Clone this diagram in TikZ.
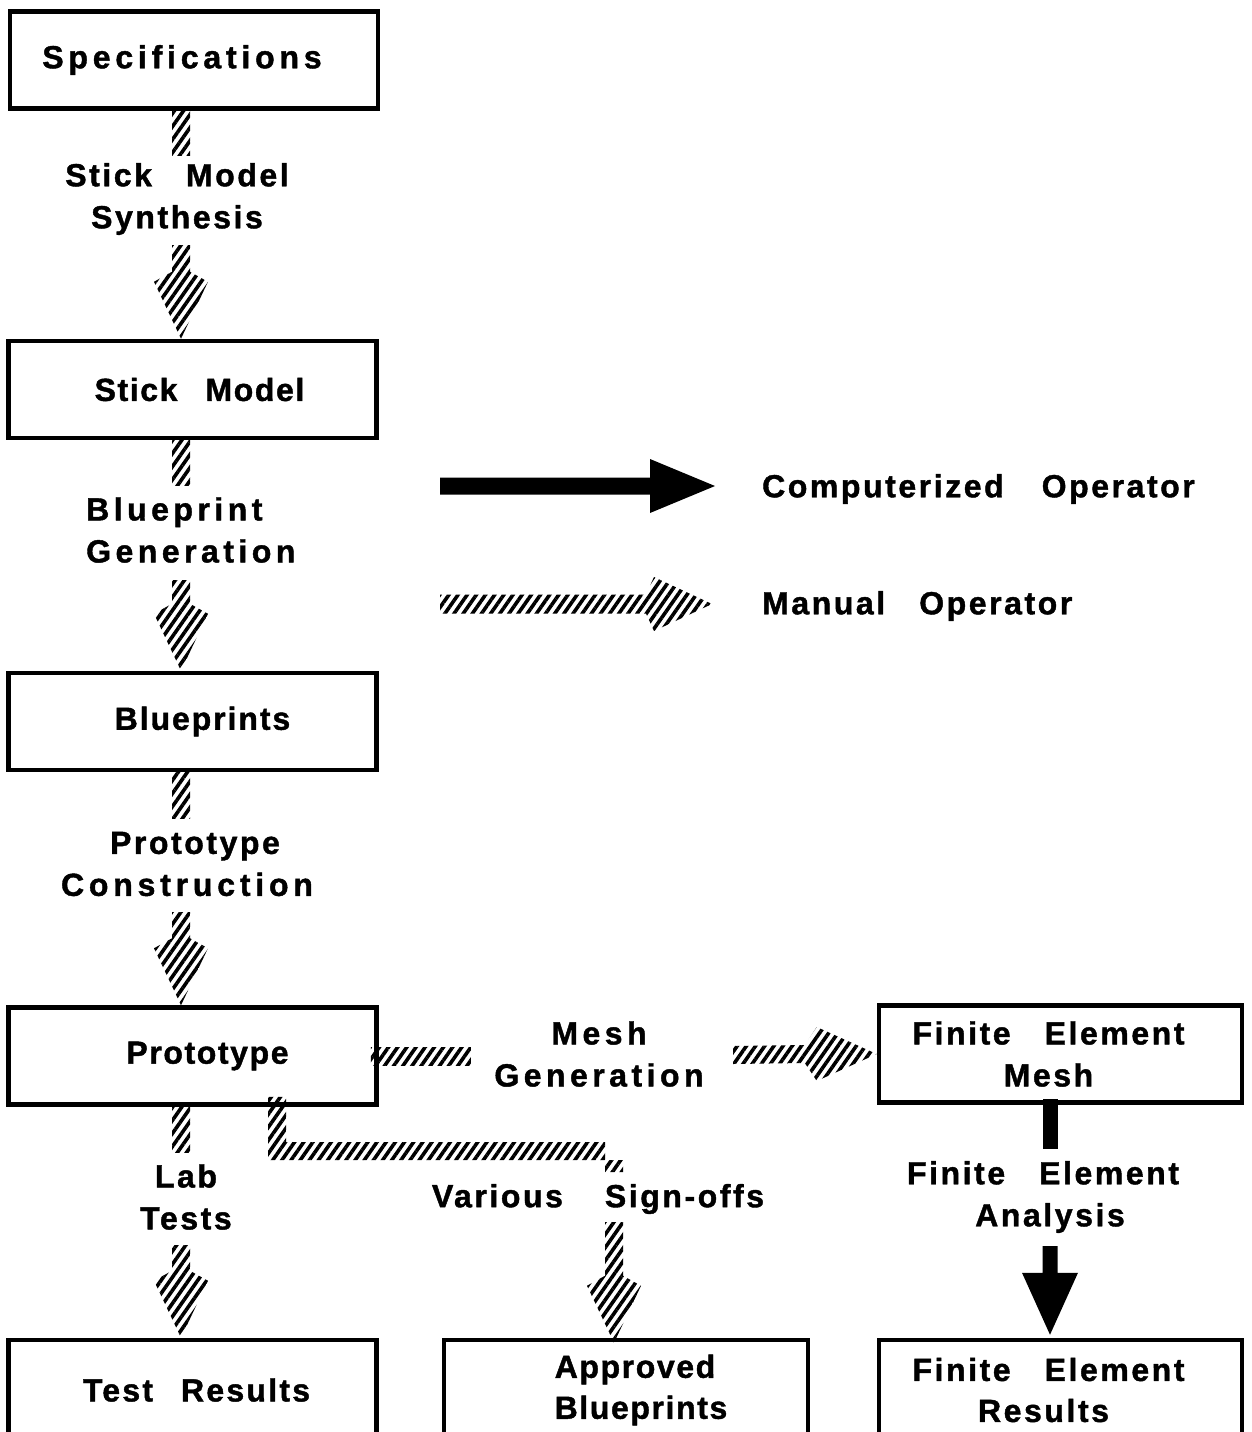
\documentclass[tikz,border=0pt]{standalone}
\usepackage{fontspec}
\setmainfont{Liberation Sans}[LetterSpace=8,BoldFeatures={FakeBold=1.3}]
\usetikzlibrary{calc,patterns.meta}
\newcommand\lbfont{\bfseries\fontsize{32}{42}\selectfont}
\newcommand\ls[1]{\addfontfeature{LetterSpace=#1}}
\newcommand\gap{\hspace{34pt}}
% text set off-centre in its box by #1
\newcommand\sh[2]{\hspace*{#1}#2\hspace*{-#1}}
% down arrow: style, start, tip, half shaft, shaft/head join, widest point, half head
\newcommand\darr[7]{\fill[#1] ($(#2)+(-#4,0)$) -- ($(#3)+(-#4,-#5)$) -- ($(#3)+(-#7,-#6)$) -- (#3) -- ($(#3)+(#7,-#6)$) -- ($(#3)+(#4,-#5)$) -- ($(#2)+(#4,0)$) -- cycle;}
% right arrow: same parameters
\newcommand\rarr[7]{\fill[#1] ($(#2)+(0,-#4)$) -- ($(#3)+(-#5,-#4)$) -- ($(#3)+(-#6,-#7)$) -- (#3) -- ($(#3)+(-#6,#7)$) -- ($(#3)+(-#5,#4)$) -- ($(#2)+(0,#4)$) -- cycle;}
\begin{document}
\begin{tikzpicture}[x=1pt,y=-1pt,
  box/.style={draw,line width=4.5pt,minimum width=368pt,minimum height=97pt,inner sep=0pt,align=center,font=\lbfont},
  lbl/.style={inner sep=0pt,align=center,font=\lbfont},
  hatch/.style={pattern={Lines[angle=55,distance=7.5pt,line width=3.6pt]}},
  ink/.style={fill=black}]
\useasboundingbox (0,0) rectangle (1252,1432);

% boxes
\node[box,font=\lbfont\ls{15}] (spec) at (194,60) {\sh{-12pt}{Specifications}};
\node[box,font=\lbfont\ls{5}] (stick) at (192.5,389.5) {\sh{7pt}{Stick\hspace{28pt}Model}};
\node[box,font=\lbfont\ls{6}] (bp) at (192.5,721.5) {\sh{10pt}{Blueprints}};
\node[box,font=\lbfont\ls{5}] (proto) at (192.5,1056) {\sh{15pt}{Prototype}};
\node[box,font=\lbfont\ls{7},minimum height=100pt] (test) at (192.5,1390) {\sh{4pt}{Test\hspace{28pt}Results}};
\node[box,font=\lbfont\ls{5},minimum width=364pt,minimum height=100pt] (appr) at (626,1390) {\sh{9pt}{Approved}\\[-1pt]\sh{15pt}{Blueprints}};
\node[box,minimum width=363pt] (fem) at (1060.5,1054) {\sh{-12pt}{Finite\gap Element}\\\sh{-12pt}{Mesh}};
\node[box,minimum width=363pt,minimum height=100pt] (fer) at (1060.5,1390) {\sh{-12pt}{Finite\gap Element}\\[-1pt]\sh{-17pt}{Results}};

% operation labels
\node[lbl] (l1) at (177,199) {Stick\gap Model\\Synthesis};
\node[lbl,font=\lbfont\ls{14},align=left,anchor=west] (l2) at (86,530) {Blueprint\\Generation};
\node[lbl,font=\lbfont\ls{15}] (l3) at (187,864) {\sh{8pt}{\ls{8}Prototype}\\Construction};
\node[lbl] (l4) at (186,1197) {Lab\\Tests};
\node[lbl] (l5) at (598,1199) {Various\hspace{42pt}Sign-offs};
\node[lbl,font=\lbfont\ls{14}] (l6) at (599,1054) {Mesh\\Generation};
\node[lbl] (l7) at (1050,1197) {\hspace*{-14pt}Finite\gap Element\\Analysis};

% key
\node[lbl,anchor=west] (k1) at (762,489) {Computerized\hspace{38pt}Operator};
\node[lbl,anchor=west] (k2) at (762,606) {Manual\gap Operator};

% columns and free ends
\coordinate (colA) at (181,0);
\coordinate (colB) at (277,0);
\coordinate (colF) at (1050,0);
\coordinate (a1) at (181,245);
\coordinate (a2) at (181,580);
\coordinate (a3) at (181,912);
\coordinate (a4) at (181,1245);
\coordinate (bend1) at (277,1151);
\coordinate (bend2) at (614,1151);
\coordinate (a5) at (614,1222);
\coordinate (m1) at (733,1055);
\coordinate (f1) at (1050,1246);
\coordinate (ks) at (440,486);
\coordinate (kt) at (715,486);
\coordinate (hs) at (440,604);
\coordinate (ht) at (712,604);

% left flow: stubs and arrows
\fill[hatch] ($(spec.south -| colA)+(-9,0)$) rectangle ($(spec.south -| colA)+(9,45)$);
\darr{hatch}{a1}{stick.north -| colA}{9}{67}{57}{27}
\fill[hatch] ($(stick.south -| colA)+(-9,0)$) rectangle ($(stick.south -| colA)+(9,45)$);
\darr{hatch}{a2}{bp.north -| colA}{9}{67}{57}{27}
\fill[hatch] ($(bp.south -| colA)+(-9,0)$) rectangle ($(bp.south -| colA)+(9,46)$);
\darr{hatch}{a3}{proto.north -| colA}{9}{67}{57}{27}
\fill[hatch] ($(proto.south -| colA)+(-9,0)$) rectangle ($(proto.south -| colA)+(9,46)$);
\darr{hatch}{a4}{test.north -| colA}{9}{67}{57}{27}

% sign-off route
\fill[hatch] ($(proto.south -| colB)+(-9,-10)$) -- ($(bend1)+(-9,9)$) -- ($(bend2)+(9,9)$)
  -- ($(bend2)+(9,21)$) -- ($(bend2)+(-9,21)$) -- ($(bend2)+(-9,-9)$)
  -- ($(bend1)+(9,-9)$) -- ($(proto.south -| colB)+(9,-10)$) -- cycle;
\darr{hatch}{a5}{$(appr.north -| bend2)+(0,5)$}{9}{67}{57}{27}

% mesh generation
\fill[hatch] ($(proto.east)+(-8,-9)$) rectangle ($(proto.east)+(92,9)$);
\rarr{hatch}{m1}{fem.west}{9}{72}{60}{27}

% finite element analysis
\fill[ink] ($(fem.south -| colF)+(-7.5,-6)$) rectangle ($(fem.south -| colF)+(7.5,44)$);
\darr{ink}{f1}{$(fer.north -| colF)+(0,-3)$}{7.5}{62}{62}{28}

% key arrows
\rarr{ink}{ks}{kt}{8.5}{65}{65}{27}
\rarr{hatch}{hs}{ht}{9.5}{66}{58}{27}
\end{tikzpicture}
\end{document}
